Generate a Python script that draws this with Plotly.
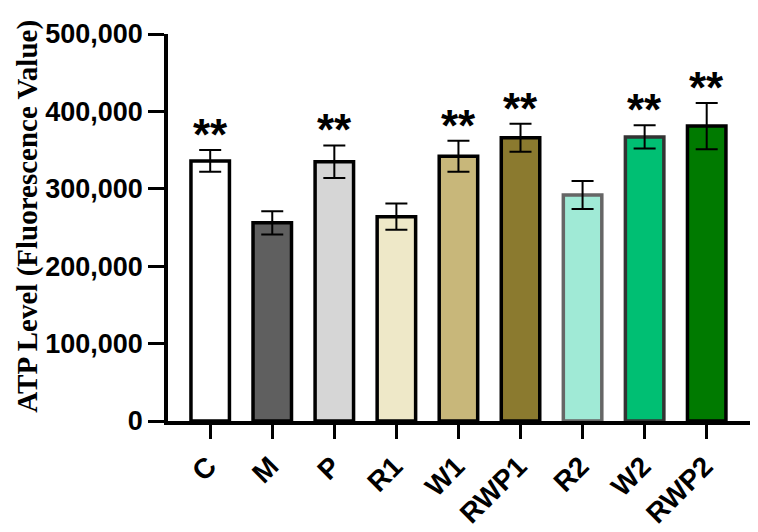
import plotly.graph_objects as go

categories = ["C", "M", "P", "R1", "W1", "RWP1", "R2", "W2", "RWP2"]
values = [336000, 256000, 335000, 264000, 342000, 366000, 292000, 367000, 381000]
errors = [14000, 15000, 21000, 17000, 20000, 18000, 18000, 15000, 30000]
fill_colors = ["#ffffff", "#5f5f5f", "#d6d6d6", "#eee8c8", "#c8b77a", "#8b7a2f",
               "#a0ead6", "#00bf73", "#007a00"]
border_colors = ["#000000", "#000000", "#000000", "#000000", "#000000", "#000000",
                 "#666666", "#333333", "#000000"]
significance = ["**", "", "**", "", "**", "**", "", "**", "**"]
y_ticks = [0, 100000, 200000, 300000, 400000, 500000]
y_tick_labels = ["0", "100,000", "200,000", "300,000", "400,000", "500,000"]
y_title = "ATP Level (Fluorescence Value)"

x_idx = list(range(len(categories)))

fig = go.Figure()
fig.add_trace(go.Bar(
    x=x_idx, y=values, width=0.62,
    marker=dict(color=fill_colors, line=dict(color=border_colors, width=3.5)),
    error_y=dict(type="data", array=errors, visible=True, color="#000000",
                 thickness=2, width=11),
))

for i, s in enumerate(significance):
    if s:
        fig.add_annotation(x=i, y=values[i] + errors[i], text=s, showarrow=False,
                           xanchor="center", yanchor="bottom", yshift=-11,
                           font=dict(family="Liberation Sans", size=44, color="#000000",
                                     weight="bold"))

fig.add_annotation(x=-0.24, y=0.53, xref="paper", yref="paper", text=y_title,
                   showarrow=False, textangle=-90, xanchor="center", yanchor="middle",
                   font=dict(family="Liberation Serif", size=29, color="black", weight="bold"))

fig.update_layout(
    width=758, height=532,
    margin=dict(l=160, r=14, t=26, b=119),
    plot_bgcolor="white", paper_bgcolor="white",
    showlegend=False,
)
fig.update_xaxes(
    range=[-0.68, 8.73], tickmode="array", tickvals=x_idx, ticktext=categories,
    tickangle=-45, ticks="outside", ticklen=14, tickwidth=3, tickcolor="black",
    showline=True, linecolor="black", linewidth=3.5, showgrid=False, zeroline=False,
    automargin=False, ticklabelshift=-2,
    tickfont=dict(family="Liberation Sans", size=28, color="black", weight="bold"),
)
fig.update_yaxes(
    range=[0, 500000], tickmode="array", tickvals=y_ticks, ticktext=y_tick_labels,
    ticks="outside", ticklen=16, tickwidth=3, tickcolor="black",
    showline=True, linecolor="black", linewidth=3.5, showgrid=False, zeroline=False,
    automargin=False,
    tickfont=dict(family="Liberation Sans", size=27, color="black", weight="bold"),
)

fig.write_html("out.html")
